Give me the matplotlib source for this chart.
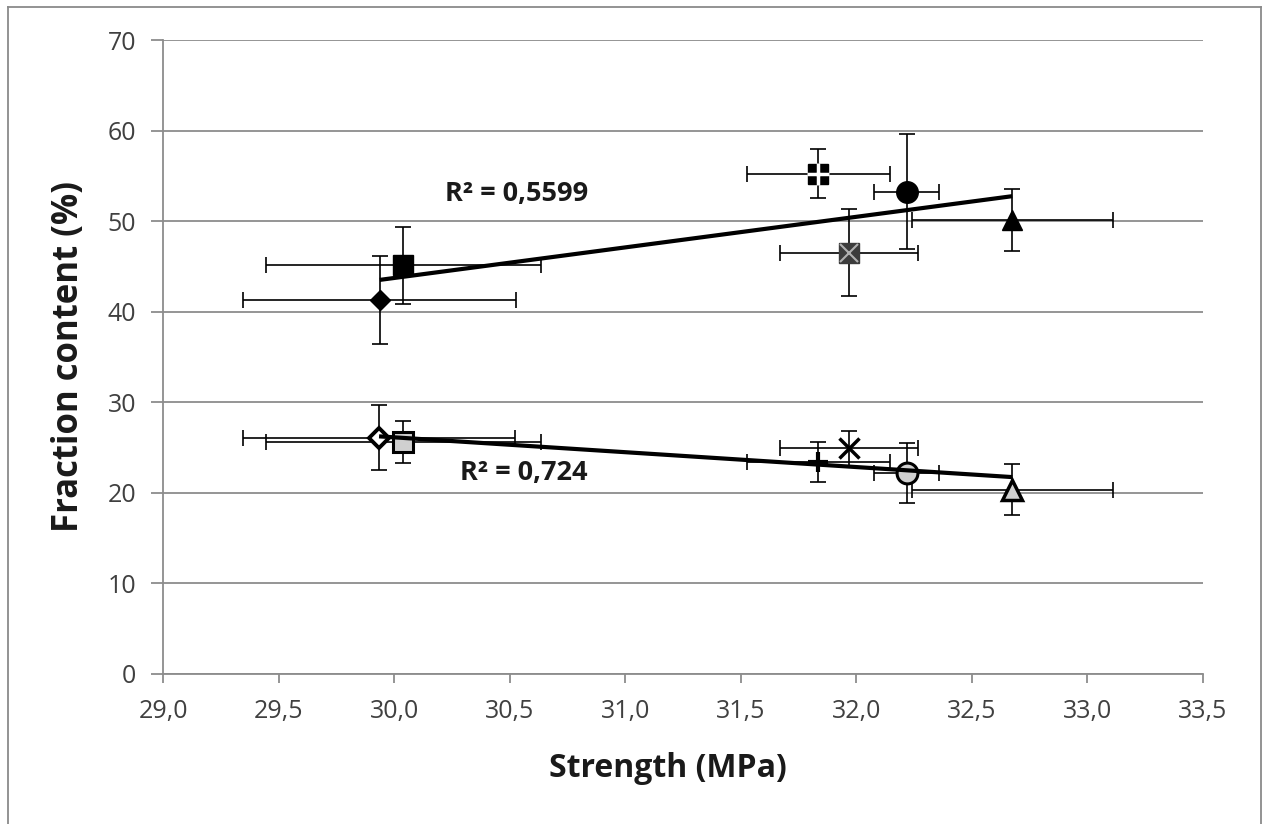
import numpy as np
import matplotlib
matplotlib.use("Agg")
import matplotlib.pyplot as plt
from matplotlib.lines import Line2D

# ---------------- data ----------------
# upper group (filled markers): diamond, square, plus-square, circle, triangle, x-square
strength_upper = [29.937, 30.038, 31.835, 32.218, 32.675, 31.968]
fraction_upper = [41.31, 45.12, 55.27, 53.25, 50.17, 46.54]
xerr_upper = [0.59, 0.595, 0.31, 0.14, 0.435, 0.30]
yerr_upper = [4.88, 4.27, 2.74, 6.35, 3.43, 4.77]

# lower group (open/grey markers): diamond, square, plus, x, circle, triangle
strength_lower = [29.934, 30.038, 31.835, 31.969, 32.218, 32.675]
fraction_lower = [26.08, 25.64, 23.35, 24.9, 22.18, 20.32]
xerr_lower = [0.59, 0.595, 0.31, 0.30, 0.14, 0.435]
yerr_lower = [3.6, 2.33, 2.2, 1.9, 3.28, 2.82]

r2_upper_label = "R² = 0,5599"
r2_lower_label = "R² = 0,724"

x_ticks = [29.0, 29.5, 30.0, 30.5, 31.0, 31.5, 32.0, 32.5, 33.0, 33.5]
y_ticks = [0, 10, 20, 30, 40, 50, 60, 70]
x_label = "Strength (MPa)"
y_label = "Fraction content (%)"

# ---------------- styling ----------------
FONT = "Open Sans"
plt.rcParams['font.family'] = [FONT, 'DejaVu Sans']

W, H = 1269, 824
fig = plt.figure(figsize=(W / 100, H / 100), dpi=100)
ax = fig.add_axes([163.3 / W, 1 - 673.7 / H, (1202.8 - 163.3) / W, (673.7 - 40.2) / H])

ax.set_xlim(29.0, 33.5)
ax.set_ylim(0, 70)

grid_c = "#8c8c8c"
for s in ["top", "right"]:
    ax.spines[s].set_visible(False)
ax.spines["left"].set_color(grid_c)
ax.spines["bottom"].set_color(grid_c)
ax.spines["left"].set_linewidth(1.3)
ax.spines["bottom"].set_linewidth(1.3)
ax.yaxis.grid(True, color=grid_c, linewidth=1.3)
ax.set_axisbelow(True)

ax.set_xticks(x_ticks)
ax.set_xticklabels([f"{v:.1f}".replace(".", ",") for v in x_ticks])
ax.set_yticks(y_ticks)
ax.set_yticklabels([str(v) for v in y_ticks])
ax.tick_params(axis="both", colors=grid_c, labelcolor="#404040", labelsize=18,
               width=1.3, direction="out")
ax.tick_params(axis="x", pad=12, length=6.5)
ax.tick_params(axis="y", pad=11, length=8.5)

ax.set_xlabel(x_label, fontsize=23, fontweight="bold", labelpad=20, color="#1a1a1a")
ax.xaxis.label.set_x((668 - 163.3) / (1202.8 - 163.3))
ax.set_ylabel(y_label, fontsize=25, fontweight="bold", labelpad=15, color="#1a1a1a")

eb_kw = dict(fmt="none", ecolor="black", elinewidth=1.2, capsize=5.5, capthick=1.2, zorder=2)
ax.errorbar(strength_upper, fraction_upper, xerr=xerr_upper, yerr=yerr_upper, **eb_kw)
ax.errorbar(strength_lower, fraction_lower, xerr=xerr_lower, yerr=yerr_lower, **eb_kw)

grey = "#d0d0d0"
# upper markers
up_styles = [
    dict(marker="D", ms=10, mfc="black", mec="black", mew=1),
    dict(marker="s", ms=15, mfc="black", mec="black", mew=1),
    dict(marker="s", ms=15, mfc="black", mec="black", mew=1),
    dict(marker="o", ms=15.5, mfc="black", mec="black", mew=1),
    dict(marker="^", ms=15, mfc="black", mec="black", mew=1),
    dict(marker="s", ms=15, mfc="#3c3c3c", mec="#3c3c3c", mew=1),
]
for x, y, st in zip(strength_upper, fraction_upper, up_styles):
    ax.plot([x], [y], linestyle="none", zorder=3, **st)
# overlays: white plus on plus-square, light x on x-square
ax.plot([strength_upper[2]], [fraction_upper[2]], linestyle="none", marker="+", ms=16,
        mec="white", mew=2.5, zorder=3.5)
ax.plot([strength_upper[5]], [fraction_upper[5]], linestyle="none", marker="x", ms=13,
        mec="#b0b0b0", mew=1.5, zorder=3.5)

# lower markers
low_styles = [
    dict(marker="D", ms=10.5, mfc="white", mec="black", mew=2.8),
    dict(marker="s", ms=14, mfc=grey, mec="black", mew=2.2),
    dict(marker="+", ms=15, mec="black", mew=3),
    dict(marker="x", ms=15, mec="black", mew=2.5),
    dict(marker="o", ms=15, mfc=grey, mec="black", mew=2.2),
    dict(marker="^", ms=15, mfc=grey, mec="black", mew=2.5),
]
for x, y, st in zip(strength_lower, fraction_lower, low_styles):
    ax.plot([x], [y], linestyle="none", zorder=3, **st)

# linear trend lines
for xs, ys in [(strength_upper, fraction_upper), (strength_lower, fraction_lower)]:
    xs = np.asarray(xs); ys = np.asarray(ys)
    k, b = np.polyfit(xs, ys, 1)
    xx = np.array([xs.min(), xs.max()])
    ax.plot(xx, k * xx + b, color="black", linewidth=3, zorder=4, solid_capstyle="butt")

ax.text(30.218, 53.0, r2_upper_label, fontsize=19.5, fontweight="bold", ha="left", va="center",
        color="#1a1a1a", zorder=5)
ax.text(30.283, 22.18, r2_lower_label, fontsize=19.5, fontweight="bold", ha="left", va="center",
        color="#1a1a1a", zorder=5)

# figure border (left, top, right)
bc = "#8a8a8a"
fig.add_artist(Line2D([8 / W, 8 / W], [0, 1 - 7 / H], color=bc, linewidth=1.3, transform=fig.transFigure))
fig.add_artist(Line2D([8 / W, 1261 / W], [1 - 7 / H, 1 - 7 / H], color=bc, linewidth=1.3, transform=fig.transFigure))
fig.add_artist(Line2D([1261 / W, 1261 / W], [0, 1 - 7 / H], color=bc, linewidth=1.3, transform=fig.transFigure))

fig.savefig("out.png", dpi=100)
